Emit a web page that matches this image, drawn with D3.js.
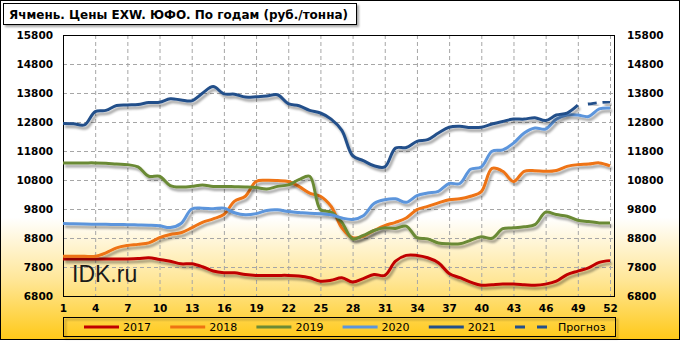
<!DOCTYPE html>
<html><head><meta charset="utf-8">
<script src="https://cdn.jsdelivr.net/npm/d3@7/dist/d3.min.js"></script>
<style>body{margin:0;padding:0;background:#fff;}svg{display:block;}</style>
</head><body>
<script>
const weeks = d3.range(1, 53);
const xTicks = [1,4,7,10,13,16,19,22,25,28,31,34,37,40,43,46,49,52];
const yTicks = [6800,7800,8800,9800,10800,11800,12800,13800,14800,15800];

const s2017 = [8080,8080,8080,8080,8080,8080,8080,8090,8120,8060,8000,7910,7910,7810,7660,7600,7600,7540,7510,7510,7510,7510,7490,7430,7310,7340,7430,7280,7400,7540,7510,8000,8200,8200,8120,7950,7580,7430,7280,7170,7190,7210,7210,7190,7170,7210,7310,7540,7660,7770,7960,8020];
const s2018 = [8170,8170,8170,8170,8290,8460,8540,8580,8630,8810,8920,8980,9150,9340,9460,9610,10070,10240,10750,10790,10780,10750,10580,10350,10240,9890,9150,8810,8860,9060,9230,9340,9490,9780,9890,10010,10120,10150,10240,10400,11200,11100,10750,11100,11120,11100,11130,11270,11330,11350,11390,11290];
const s2019 = [11390,11390,11390,11390,11380,11350,11330,11250,10930,10930,10610,10560,10580,10630,10580,10580,10570,10560,10540,10490,10580,10630,10810,10930,9780,9690,9340,8770,8890,9060,9150,9130,9210,8810,8770,8630,8600,8600,8720,8840,8790,9120,9150,9190,9260,9690,9610,9550,9410,9370,9320,9320];
const s2020 = [9300,9290,9280,9275,9270,9265,9260,9250,9240,9220,9160,9300,9800,9830,9810,9830,9670,9600,9640,9750,9770,9710,9680,9650,9640,9600,9490,9440,9570,9990,10120,10150,10030,10260,10350,10410,10680,10680,11170,11250,11790,11840,12070,12420,12590,12560,12900,13040,13040,12990,13250,13280];
const s2021 = [12750,12740,12700,13160,13200,13370,13390,13400,13470,13480,13600,13560,13530,13790,14020,13770,13760,13660,13670,13700,13740,13430,13360,13200,13110,12900,12510,11640,11470,11290,11250,11900,11920,12130,12190,12420,12620,12650,12610,12620,12730,12820,12900,12900,12950,12850,13040,13110,13380];
const forecastWeeks = [49,50,51,52];
const forecast = [13380,13420,13470,13500];

const seriesNames = ["2017","2018","2019","2020","2021","Прогноз"];
const colors = ["#c00000","#ee7312","#6b8a35","#5b95dc","#244f8a","#244f8a"];
const title = "Ячмень. Цены EXW. ЮФО. По годам (руб./тонна)";

const W = 681, H = 341;
const svg = d3.select("body").append("svg").attr("width", W).attr("height", H);
const defs = svg.append("defs");
const grad = defs.append("linearGradient").attr("id","bg").attr("x1",0).attr("y1",0).attr("x2",0).attr("y2",1);
grad.append("stop").attr("offset","0%").attr("stop-color","#ffffff");
grad.append("stop").attr("offset","64%").attr("stop-color","#ffffff");
grad.append("stop").attr("offset","82%").attr("stop-color","#ffe79a");
grad.append("stop").attr("offset","100%").attr("stop-color","#ffc918");
const f = defs.append("filter").attr("id","sh").attr("x","-5%").attr("y","-10%").attr("width","110%").attr("height","130%");
f.append("feDropShadow").attr("dx",2).attr("dy",3).attr("stdDeviation",1.3).attr("flood-color","#000").attr("flood-opacity",0.35);
const f2 = defs.append("filter").attr("id","bsh").attr("x","-5%").attr("y","-20%").attr("width","110%").attr("height","160%");
f2.append("feDropShadow").attr("dx",2).attr("dy",2).attr("stdDeviation",1).attr("flood-color","#000").attr("flood-opacity",0.35);

svg.append("rect").attr("x",0.5).attr("y",0.5).attr("width",679).attr("height",339)
  .attr("fill","url(#bg)").attr("stroke","#000").attr("stroke-width",1);

const L = 63, R = 610, T = 35, B = 296;
const x = d3.scaleLinear().domain([1,52]).range([L,R]);
const y = d3.scaleLinear().domain([6800,15800]).range([B,T]);

// grid
const g = svg.append("g");
g.selectAll(".vg").data(xTicks).join("line")
  .attr("x1",d=>x(d)+0.5).attr("x2",d=>x(d)+0.5).attr("y1",T).attr("y2",B)
  .attr("stroke","#a6a6a6").attr("stroke-width",1).attr("stroke-dasharray","4,3");
g.selectAll(".hg").data(yTicks).join("line")
  .attr("x1",L).attr("x2",614).attr("y1",d=>Math.round(y(d))+0.5).attr("y2",d=>Math.round(y(d))+0.5)
  .attr("stroke","#a6a6a6").attr("stroke-width",1).attr("stroke-dasharray","4,3");

// watermark
svg.append("text").attr("x",72).attr("y",282).text("IDK.ru")
  .attr("font-family","Liberation Sans, Arial, sans-serif").attr("font-size",23).attr("fill","#1a1a1a");

// plot border
svg.append("rect").attr("x",L+0.5).attr("y",T+0.5).attr("width",614-L).attr("height",B-T)
  .attr("fill","none").attr("stroke","#000").attr("stroke-width",1);

// axes
const leftAxis = d3.axisLeft(y).tickValues(yTicks).tickSize(0).tickPadding(10).tickFormat(d3.format("d"));
const rightAxis = d3.axisRight(y).tickValues(yTicks).tickSize(0).tickPadding(13).tickFormat(d3.format("d"));
const bottomAxis = d3.axisBottom(x).tickValues(xTicks).tickSize(0).tickPadding(9).tickFormat(d3.format("d"));
const styleAxis = sel => { sel.select(".domain").remove();
  sel.selectAll("text").attr("font-family","DejaVu Sans, Verdana, sans-serif").attr("font-weight","bold").attr("font-size",10.5).attr("fill","#000"); };
svg.append("g").attr("transform",`translate(${L},0)`).call(leftAxis).call(styleAxis);
svg.append("g").attr("transform",`translate(614,0)`).call(rightAxis).call(styleAxis);
svg.append("g").attr("transform",`translate(0,${B})`).call(bottomAxis).call(styleAxis);

// lines
const line = d3.line().x(d=>x(d[0])).y(d=>y(d[1])).curve(d3.curveCatmullRom.alpha(0.5));
const allSeries = [s2017,s2018,s2019,s2020,s2021];
const lg = svg.append("g");
allSeries.forEach((s,i)=>{
  lg.append("path").datum(s.map((v,j)=>[weeks[j],v])).attr("d",line)
    .attr("fill","none").attr("stroke",colors[i]).attr("stroke-width",3).attr("stroke-linejoin","round")
    .attr("filter","url(#sh)");
});
lg.append("path").datum(forecast.map((v,j)=>[forecastWeeks[j],v])).attr("d",line)
  .attr("fill","none").attr("stroke",colors[5]).attr("stroke-width",3).attr("stroke-dasharray","0,10,9,6,9,6")
  .attr("filter","url(#sh)");

// title
const tg = svg.append("g");
tg.append("rect").attr("x",3.5).attr("y",3.5).attr("width",353).attr("height",21)
  .attr("fill","#fff").attr("stroke","#000").attr("stroke-width",1).attr("filter","url(#bsh)");
tg.append("text").attr("x",9).attr("y",19).text(title)
  .attr("font-family","DejaVu Sans, Verdana, sans-serif").attr("font-weight","bold").attr("font-size",12)
  .attr("textLength",339).attr("lengthAdjust","spacingAndGlyphs");

// legend
const leg = svg.append("g");
leg.append("rect").attr("x",63.5).attr("y",317.5).attr("width",552).attr("height",19)
  .attr("fill","none").attr("stroke","#000").attr("stroke-width",1).attr("filter","url(#bsh)");
seriesNames.forEach((n,i)=>{
  const x0 = 84 + i*86.2;
  leg.append("line").attr("x1",x0).attr("x2",x0+35).attr("y1",327).attr("y2",327)
    .attr("stroke",colors[i]).attr("stroke-width",3)
    .attr("stroke-dasharray", i===5 ? "10,12" : null);
  leg.append("text").attr("x",x0+39 + (i===5?4:0)).attr("y",331).text(n)
    .attr("font-family","DejaVu Sans, Verdana, sans-serif").attr("font-size",11).attr("fill","#000");
});
</script>
</body></html>
